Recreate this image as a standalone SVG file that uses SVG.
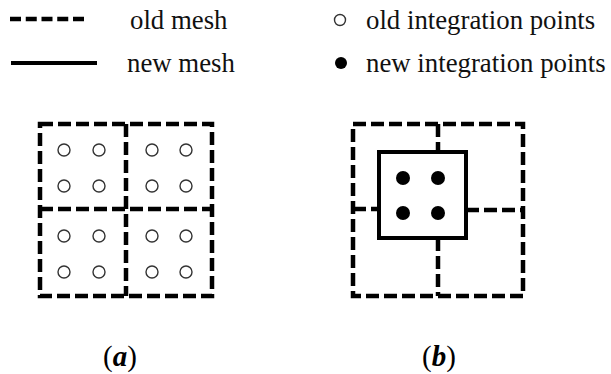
<svg xmlns="http://www.w3.org/2000/svg" width="611" height="374" viewBox="0 0 611 374">
<style>
.t{font-family:"Liberation Serif","Times New Roman",serif;font-size:26.8px;fill:#111}
.dash{fill:none;stroke:#000;stroke-width:4.5;stroke-dasharray:13 5}
.solid{fill:none;stroke:#000;stroke-width:4}
.op{fill:#fff;stroke:#333;stroke-width:1.4}
.fp{fill:#000}
.lb{font-family:"Liberation Serif","Times New Roman",serif;font-size:29px;fill:#000}
</style>
<rect width="611" height="374" fill="#fff"/>
<g id="legend">
<line x1="10" y1="19" x2="84" y2="19" stroke="#000" stroke-width="4.5" stroke-dasharray="11 4.75"/>
<text class="t" x="130" y="29">old mesh</text>
<line x1="11" y1="63" x2="97" y2="63" class="solid"/>
<text class="t" x="127" y="72">new mesh</text>
<circle cx="340" cy="20" r="5.5" class="op"/>
<text class="t" x="366" y="29">old integration points</text>
<circle cx="341" cy="63" r="6" class="fp"/>
<text class="t" x="366" y="72">new integration points</text>
</g>
<g id="mesh-a">
<rect x="40" y="124" width="172" height="172" class="dash"/>
<line x1="126" y1="124" x2="126" y2="296" class="dash"/>
<line x1="40" y1="209" x2="212" y2="209" class="dash"/>
<g>
<circle cx="64" cy="150" r="6" class="op"/><circle cx="99" cy="150" r="6" class="op"/>
<circle cx="152" cy="150" r="6" class="op"/><circle cx="186" cy="150" r="6" class="op"/>
<circle cx="64" cy="186" r="6" class="op"/><circle cx="99" cy="186" r="6" class="op"/>
<circle cx="152" cy="186" r="6" class="op"/><circle cx="186" cy="186" r="6" class="op"/>
<circle cx="64" cy="236" r="6" class="op"/><circle cx="99" cy="236" r="6" class="op"/>
<circle cx="152" cy="236" r="6" class="op"/><circle cx="186" cy="236" r="6" class="op"/>
<circle cx="64" cy="272" r="6" class="op"/><circle cx="99" cy="272" r="6" class="op"/>
<circle cx="152" cy="272" r="6" class="op"/><circle cx="186" cy="272" r="6" class="op"/>
</g>
</g>
<g id="mesh-b">
<rect x="353" y="124" width="170" height="172" class="dash"/>
<line x1="438" y1="124" x2="438" y2="152" class="dash"/>
<line x1="438" y1="238" x2="438" y2="296" class="dash"/>
<line x1="353" y1="209" x2="379" y2="209" class="dash"/>
<line x1="466" y1="210" x2="523" y2="210" class="dash"/>
<rect x="379" y="152" width="87" height="86" class="solid"/>
<circle cx="403" cy="178" r="7" class="fp"/><circle cx="438" cy="178" r="7" class="fp"/>
<circle cx="403" cy="213" r="7" class="fp"/><circle cx="438" cy="213" r="7" class="fp"/>
</g>
<g id="labels">
<text class="lb" x="120" y="366" text-anchor="middle">(<tspan font-weight="bold" font-style="italic">a</tspan>)</text>
<text class="lb" x="439" y="366" text-anchor="middle">(<tspan font-weight="bold" font-style="italic">b</tspan>)</text>
</g>
</svg>
